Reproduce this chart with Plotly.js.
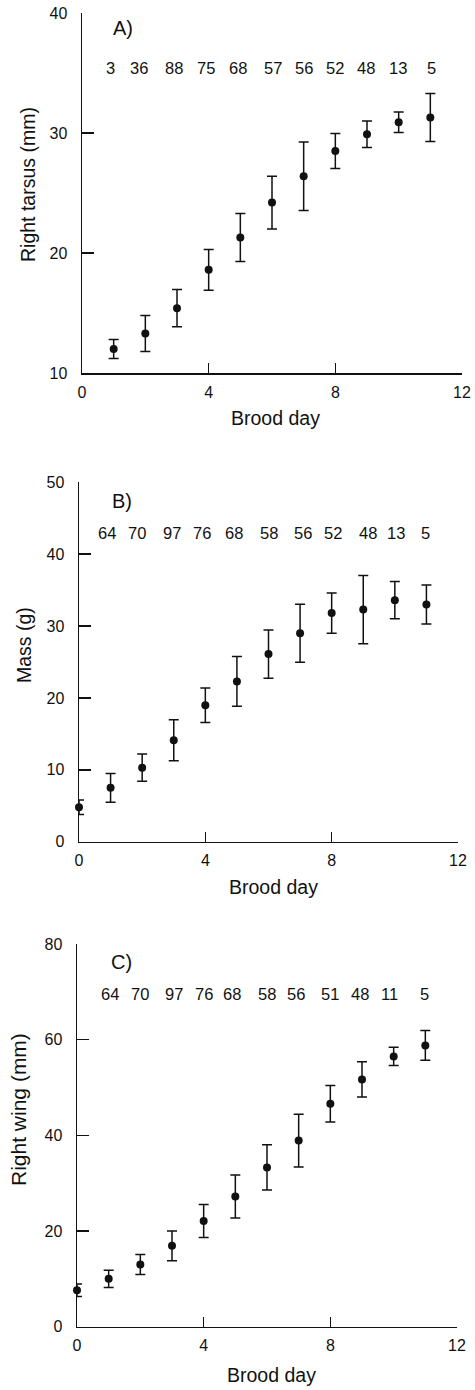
<!DOCTYPE html>
<html>
<head>
<meta charset="utf-8">
<script src="https://cdn.plot.ly/plotly-3.0.1.min.js"></script>
<style>html,body{margin:0;padding:0;background:#fff;}#chart{width:475px;height:1390px;}</style>
</head>
<body>
<div id="chart"></div>
<script>
// ---- Data ----
const tarsusDays = [1, 2, 3, 4, 5, 6, 7, 8, 9, 10, 11];
const tarsusMean = [12.0, 13.3, 15.4, 18.6, 21.3, 24.2, 26.4, 28.5, 29.9, 30.9, 31.3];
const tarsusErr  = [0.8, 1.5, 1.55, 1.7, 2.0, 2.2, 2.85, 1.45, 1.1, 0.85, 2.0];
const tarsusN    = ["3", "36", "88", "75", "68", "57", "56", "52", "48", "13", "5"];
const tarsusNDay = [0.89, 1.8, 2.91, 3.92, 4.94, 6.04, 7.0, 8.0, 8.97, 9.97, 11.04];

const massDays = [0, 1, 2, 3, 4, 5, 6, 7, 8, 9, 10, 11];
const massMean = [4.8, 7.5, 10.3, 14.1, 19.0, 22.3, 26.1, 29.0, 31.8, 32.3, 33.6, 33.0];
const massErr  = [1.0, 2.0, 1.9, 2.85, 2.4, 3.45, 3.35, 4.05, 2.8, 4.75, 2.6, 2.7];
const massN    = ["64", "70", "97", "76", "68", "58", "56", "52", "48", "13", "5"];
const massNDay = [0.88, 1.83, 2.93, 3.88, 4.92, 6.0, 7.1, 8.05, 9.15, 10.03, 10.98];

const wingDays = [0, 1, 2, 3, 4, 5, 6, 7, 8, 9, 10, 11];
const wingMean = [7.6, 10.0, 13.0, 16.9, 22.1, 27.2, 33.3, 38.9, 46.6, 51.7, 56.5, 58.8];
const wingErr  = [1.3, 1.8, 2.1, 3.1, 3.45, 4.5, 4.75, 5.5, 3.8, 3.7, 1.9, 3.1];
const wingN    = ["64", "70", "97", "76", "68", "58", "56", "51", "48", "11", "5"];
const wingNDay = [1.04, 1.99, 3.06, 4.01, 4.89, 5.99, 6.91, 7.99, 8.94, 9.88, 10.96];

const xTicks = [0, 4, 8, 12];
const panelLabels = ["A)", "B)", "C)"];
const yTitles = ["Right tarsus (mm)", "Mass (g)", "Right wing (mm)"];
const xTitle = "Brood day";

// ---- Layout helpers ----
const W = 475, H = 1390;
const px = x => x / W;
const py = y => 1 - y / H;
const FONT = "Liberation Sans, Arial, Helvetica, sans-serif";
const INK = "#111";

function trace(x, y, e, xa, ya) {
  return {
    type: "scatter", mode: "markers", x: x, y: y,
    xaxis: xa, yaxis: ya, cliponaxis: false,
    marker: {color: INK, size: 8},
    error_y: {type: "data", array: e, visible: true, color: INK, thickness: 1.5, width: 5},
    showlegend: false, hoverinfo: "x+y"
  };
}

const data = [
  trace(tarsusDays, tarsusMean, tarsusErr, "x", "y"),
  trace(massDays, massMean, massErr, "x2", "y2"),
  trace(wingDays, wingMean, wingErr, "x3", "y3")
];

function xax(d0, d1, anchor) {
  return {
    domain: [d0, d1], range: [0, 12], anchor: anchor,
    tickvals: xTicks, ticks: "inside", ticklen: 10, tickwidth: 1.5, tickcolor: INK,
    showline: true, linewidth: 1.5, linecolor: INK, showgrid: false, zeroline: false,
    tickfont: {family: FONT, size: 16, color: INK}, ticklabelstandoff: 4, fixedrange: true
  };
}
function yax(d0, d1, range, dtick, anchor) {
  return {
    domain: [d0, d1], range: range, anchor: anchor, dtick: dtick, tick0: 0,
    ticks: "inside", ticklen: 12, tickwidth: 1.5, tickcolor: INK,
    showline: true, linewidth: 1.5, linecolor: INK, showgrid: false, zeroline: false,
    tickfont: {family: FONT, size: 16, color: INK}, ticklabelstandoff: 10, fixedrange: true
  };
}

const annotations = [];
function nRow(labels, xs, yv, xref, yref) {
  labels.forEach((t, i) => annotations.push({
    text: t, x: xs[i], y: yv, xref: xref, yref: yref, showarrow: false,
    xanchor: "center", yanchor: "middle", font: {family: FONT, size: 16.5, color: INK}
  }));
}
nRow(tarsusN, tarsusNDay, 35.4, "x", "y");
nRow(massN, massNDay, 43.0, "x2", "y2");
nRow(wingN, wingNDay, 69.6, "x3", "y3");

const labelPos = [[123, 28], [122, 501], [121, 962]];
const yTitlePos = [[28, 185, 19.5], [24, 645, 19.5], [18, 1110, 21]];
const xTitlePos = [[275, 418], [273, 887], [271, 1375]];
for (let i = 0; i < 3; i++) {
  annotations.push({text: panelLabels[i], x: px(labelPos[i][0]), y: py(labelPos[i][1]),
    xref: "paper", yref: "paper", showarrow: false, xanchor: "center", yanchor: "middle",
    font: {family: FONT, size: 20, color: INK}});
  annotations.push({text: yTitles[i], x: px(yTitlePos[i][0]), y: py(yTitlePos[i][1]),
    xref: "paper", yref: "paper", showarrow: false, xanchor: "center", yanchor: "middle",
    textangle: -90, font: {family: FONT, size: yTitlePos[i][2], color: INK}});
  annotations.push({text: xTitle, x: px(xTitlePos[i][0]), y: py(xTitlePos[i][1]),
    xref: "paper", yref: "paper", showarrow: false, xanchor: "center", yanchor: "middle",
    font: {family: FONT, size: 19.5, color: INK}});
}

const layout = {
  width: W, height: H, margin: {l: 0, r: 0, t: 0, b: 0},
  paper_bgcolor: "#fff", plot_bgcolor: "#fff",
  font: {family: FONT, color: INK},
  xaxis:  xax(px(82), px(462), "y"),
  yaxis:  yax(py(373), py(13), [10, 40], 10, "x"),
  xaxis2: xax(px(79), px(458), "y2"),
  yaxis2: yax(py(841.7), py(482.3), [0, 50], 10, "x2"),
  xaxis3: xax(px(77), px(457), "y3"),
  yaxis3: yax(py(1326.7), py(944), [0, 80], 20, "x3"),
  annotations: annotations
};

Plotly.newPlot("chart", data, layout, {displayModeBar: false, staticPlot: true});
</script>
</body>
</html>
